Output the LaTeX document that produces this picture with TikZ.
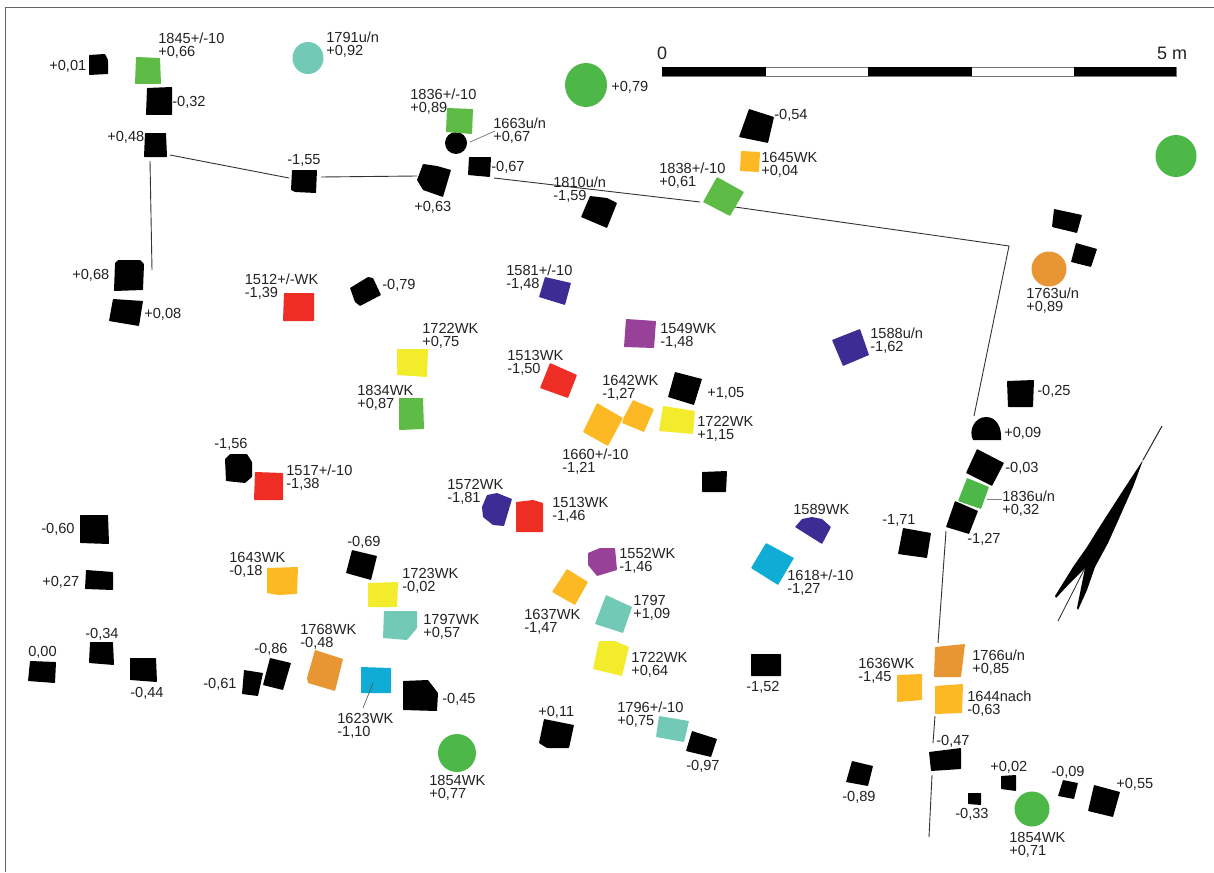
\documentclass[tikz,border=0pt]{standalone}
\usepackage{fontspec}
\setmainfont{Liberation Sans}
\definecolor{txt}{HTML}{222222}
\definecolor{sqgreen}{HTML}{5DBB46}
\definecolor{cgreen}{HTML}{4DB848}
\definecolor{teal2}{HTML}{72C9B5}
\definecolor{red2}{HTML}{EE2E24}
\definecolor{yel2}{HTML}{F3EC2C}
\definecolor{indigo2}{HTML}{3D2C93}
\definecolor{magenta2}{HTML}{974199}
\definecolor{amber2}{HTML}{FDB924}
\definecolor{dkorange}{HTML}{E89534}
\definecolor{sky2}{HTML}{0FACD5}
\newcounter{labn}
\tikzset{
  lab/.style={anchor=north west,inner sep=0pt,outer sep=0pt,align=left,text=txt,font=\fontsize{14.6}{12.6}\selectfont},
  bigsc/.style={anchor=north west,inner sep=0pt,outer sep=0pt,text=txt,font=\fontsize{18}{20}\selectfont},
  wall/.style={draw=black!80,line width=0.9pt},
  lead/.style={draw=black!50,line width=0.8pt},
  frameline/.style={draw=black!60,line width=1pt},
  pit/.style={fill=black,rounded corners=0.6pt},
  sq/.style={fill=#1,rounded corners=0.6pt},
}
\newcommand{\lbl}[4]{\stepcounter{labn}\node[lab] (L\thelabn) at (#1-0.7,#2) {\rule{0pt}{10.4pt}#3\\#4};}
\newcommand{\lbs}[3]{\stepcounter{labn}\node[lab] (L\thelabn) at (#1-0.7,#2) {\rule{0pt}{10.4pt}#3};}
\begin{document}
\begin{tikzpicture}[x=1pt,y=-1pt]
\useasboundingbox (0,0) rectangle (1214,872);
\fill[white] (0,0) rectangle (1214,872);
\draw[frameline] (5.7,872) -- (5.7,7.5) -- (1214,7.5);
% walls
\draw[wall] (170,155) -- (289,178);
\draw[wall] (321,177) -- (417,176);
\draw[wall] (150,161) -- (152,270);
\draw[wall] (494,178) -- (700,202);
\draw[wall] (735,207) -- (1009,246) -- (974,416);
\draw[wall] (946,531) -- (938,643);
\draw[wall] (935,716) -- (933,743);
\draw[wall] (932,775) -- (929,837);
\draw[lead] (470,142) -- (495,131);
\draw[lead] (987,499) -- (1002,499);
% scale bar
\draw[draw=black!55,line width=0.8pt,fill=white] (662,67) rectangle (1176,76);
\fill[black] (662,67) rectangle (766,76);
\fill[black] (868,67) rectangle (972,76);
\fill[black] (1074,67) rectangle (1176,76);
% circles
\fill[teal2] (308,58) ellipse [x radius=15.5,y radius=16];
\fill[cgreen] (586,85) ellipse [x radius=21,y radius=22];
\fill[cgreen] (1176,156) ellipse [x radius=20.5,y radius=21];
\fill[dkorange] (1049,269) circle [radius=17.5];
\fill[cgreen] (457,753) circle [radius=19];
\fill[cgreen] (1032,809) circle [radius=17.5];
\fill[black] (456,143) circle [radius=11];
% black pits
\fill[pit] (89,55) -- (105,54) -- (108,60) -- (108,74) -- (89,75) -- cycle;
\fill[pit] (147,88) -- (172,87) -- (172,115) -- (146,115) -- cycle;
\fill[pit] (145,133) -- (166,133) -- (167,157) -- (144,157) -- cycle;
\fill[pit] (292,170) -- (317,170) -- (316,193) -- (295,192) -- (291,190) -- cycle;
\fill[pit] (115,263) -- (118,260) -- (140,260) -- (144,264) -- (143,290) -- (114,291) -- cycle;
\fill[pit] (113,299) -- (143,301) -- (139,326) -- (109,321) -- cycle;
\fill[pit] (350,288) -- (368,277) -- (373,278) -- (381,295) -- (360,306) -- (355,302) -- cycle;
\fill[pit] (469,157) -- (491,157) -- (490,177) -- (468,175) -- cycle;
\fill[pit] (423,164) -- (437,166) -- (451,170) -- (443,197) -- (423,190) -- (417,180) -- cycle;
\fill[pit] (590,196) -- (607,198) -- (617,203) -- (607,228) -- (581,217) -- cycle;
\fill[pit] (749,109) -- (774,117) -- (768,143) -- (739,137) -- cycle;
\fill[pit] (1054,209) -- (1082,215) -- (1077,233) -- (1052,227) -- cycle;
\fill[pit] (1076,243) -- (1097,249) -- (1091,267) -- (1071,262) -- cycle;
\fill[pit] (225,459) -- (230,454) -- (247,454) -- (252,462) -- (252,477) -- (245,483) -- (226,481) -- cycle;
\fill[pit] (675,372) -- (702,379) -- (694,405) -- (668,397) -- cycle;
\fill[pit] (702,472) -- (727,471) -- (726,492) -- (702,492) -- cycle;
\fill[pit] (1007,381) -- (1034,380) -- (1033,407) -- (1008,407) -- cycle;
\fill[black] (973,440) .. controls (968,430) and (975,417) .. (986,417) .. controls (997,417) and (1002,428) .. (1001,440) -- cycle;
\fill[pit] (977,449) -- (1004,463) -- (992,486) -- (966,473) -- cycle;
\fill[pit] (955,501) -- (978,511) -- (969,534) -- (946,527) -- cycle;
\fill[pit] (903,528) -- (931,533) -- (927,558) -- (898,554) -- cycle;
\fill[pit] (80,515) -- (108,515) -- (109,544) -- (80,543) -- cycle;
\fill[pit] (86,570) -- (113,572) -- (113,590) -- (85,589) -- cycle;
\fill[pit] (90,642) -- (113,642) -- (114,665) -- (89,663) -- cycle;
\fill[pit] (30,661) -- (56,662) -- (55,683) -- (28,681) -- cycle;
\fill[pit] (130,658) -- (156,658) -- (157,682) -- (130,680) -- cycle;
\fill[pit] (352,550) -- (377,556) -- (371,580) -- (346,573) -- cycle;
\fill[pit] (270,658) -- (291,663) -- (283,690) -- (263,685) -- cycle;
\fill[pit] (244,670) -- (263,673) -- (258,696) -- (242,694) -- cycle;
\fill[pit] (403,681) -- (428,680) -- (438,693) -- (437,711) -- (403,710) -- cycle;
\fill[pit] (751,654) -- (781,654) -- (781,676) -- (751,676) -- cycle;
\fill[pit] (544,719) -- (574,725) -- (569,748) -- (547,748) -- (539,743) -- cycle;
\fill[pit] (692,731) -- (717,739) -- (711,757) -- (686,751) -- cycle;
\fill[pit] (852,761) -- (873,766) -- (868,786) -- (846,782) -- cycle;
\fill[pit] (929,752) -- (961,748) -- (961,769) -- (931,771) -- cycle;
\fill[pit] (1001,776) -- (1016,775) -- (1016,791) -- (1001,789) -- cycle;
\fill[pit] (968,793) -- (981,793) -- (981,805) -- (968,804) -- cycle;
\fill[pit] (1063,780) -- (1078,783) -- (1074,799) -- (1058,796) -- cycle;
\fill[pit] (1094,785) -- (1120,792) -- (1113,817) -- (1088,811) -- cycle;
% coloured pits
\fill[sq=sqgreen] (136,57) -- (160,58) -- (161,84) -- (135,84) -- cycle;
\fill[sq=sqgreen] (447,108) -- (473,109) -- (472,134) -- (446,132) -- cycle;
\fill[sq=sqgreen] (717,177) -- (744,192) -- (730,216) -- (703,202) -- cycle;
\fill[sq=sqgreen] (399,398) -- (423,398) -- (424,429) -- (399,430) -- cycle;
\fill[sq=cgreen] (967,478) -- (989,487) -- (981,509) -- (958,501) -- cycle;
\fill[sq=amber2] (741,151) -- (760,152) -- (759,172) -- (740,171) -- cycle;
\fill[sq=amber2] (597,403) -- (623,418) -- (608,446) -- (583,432) -- cycle;
\fill[sq=amber2] (633,400) -- (654,409) -- (644,432) -- (622,423) -- (624,417) -- cycle;
\fill[sq=amber2] (267,568) -- (298,567) -- (297,594) -- (278,595) -- (267,593) -- cycle;
\fill[sq=amber2] (567,569) -- (588,582) -- (575,605) -- (552,592) -- cycle;
\fill[sq=amber2] (897,675) -- (922,674) -- (922,700) -- (897,702) -- cycle;
\fill[sq=amber2] (935,686) -- (963,684) -- (962,713) -- (935,714) -- cycle;
\fill[sq=dkorange] (315,650) -- (343,659) -- (335,691) -- (308,683) -- (307,678) -- cycle;
\fill[sq=dkorange] (935,647) -- (965,644) -- (961,677) -- (934,677) -- cycle;
\fill[sq=red2] (284,293) -- (314,293) -- (314,321) -- (283,321) -- cycle;
\fill[sq=red2] (550,363) -- (577,375) -- (568,398) -- (540,388) -- cycle;
\fill[sq=red2] (255,472) -- (283,473) -- (283,500) -- (254,500) -- cycle;
\fill[sq=red2] (516,502) -- (533,500) -- (543,503) -- (543,532) -- (516,532) -- cycle;
\fill[sq=yel2] (397,349) -- (428,349) -- (427,377) -- (397,375) -- cycle;
\fill[sq=yel2] (663,406) -- (695,411) -- (693,434) -- (659,431) -- cycle;
\fill[sq=yel2] (368,583) -- (398,582) -- (397,607) -- (368,607) -- cycle;
\fill[sq=yel2] (599,641) -- (615,641) -- (629,647) -- (622,676) -- (593,669) -- cycle;
\fill[sq=indigo2] (545,277) -- (571,283) -- (565,305) -- (539,297) -- cycle;
\fill[sq=indigo2] (860,329) -- (869,355) -- (843,366) -- (832,340) -- cycle;
\fill[sq=indigo2] (487,495) -- (497,493) -- (512,499) -- (504,526) -- (493,525) -- (483,517) -- (482,507) -- cycle;
\fill[sq=indigo2] (795,527) -- (802,519) -- (812,517) -- (822,519) -- (831,527) -- (822,544) -- cycle;
\fill[sq=magenta2] (626,319) -- (656,321) -- (654,348) -- (624,347) -- cycle;
\fill[sq=magenta2] (588,553) -- (600,548) -- (615,548) -- (617,570) -- (597,576) -- (588,565) -- cycle;
\fill[sq=sky2] (766,543) -- (794,558) -- (778,585) -- (751,568) -- cycle;
\fill[sq=sky2] (361,667) -- (391,668) -- (391,693) -- (361,693) -- cycle;
\fill[sq=teal2] (384,611) -- (417,611) -- (417,628) -- (407,640) -- (383,638) -- cycle;
\fill[sq=teal2] (606,595) -- (632,607) -- (623,633) -- (595,624) -- cycle;
\fill[sq=teal2] (659,716) -- (689,721) -- (684,742) -- (656,737) -- cycle;
\draw[draw=black!70,line width=0.6pt] (373,683) -- (363,708);
% north arrow
\fill[black] (1143,460) -- (1133,487) -- (1117,523) -- (1108,543) -- (1095,567) -- (1087,590) -- (1078,610) -- (1077,608) -- (1082,583) -- (1085,568) -- (1070,583) -- (1056,598) -- (1055,596) -- (1073,567) -- (1087,547) -- (1102,523) -- (1122,492) -- cycle;
\draw[draw=black!85,line width=0.8pt] (1085,568) -- (1058,621);
\draw[draw=black!85,line width=1pt] (1162,426) -- (1143,460);
% labels
\lbl{159}{33}{1845+/-10}{+0,66}
\lbl{327}{32}{1791u/n}{+0,92}
\lbs{50}{60}{+0,01}
\lbs{173}{96}{-0,32}
\lbs{108}{131}{+0,48}
\lbs{288}{154}{-1,55}
\lbs{73}{269}{+0,68}
\lbs{145}{308}{+0,08}
\lbl{245.5}{274}{1512+/-WK}{-1,39}
\lbs{383}{279}{-0,79}
\lbl{411}{89}{1836+/-10}{+0,89}
\lbl{494}{118}{1663u/n}{+0,67}
\lbs{492}{161}{-0,67}
\lbs{415}{201}{+0,63}
\lbl{554}{177}{1810u/n}{-1,59}
\lbs{612}{81}{+0,79}
\lbl{660}{163}{1838+/-10}{+0,61}
\lbl{762}{152}{1645WK}{+0,04}
\lbs{775}{109}{-0,54}
\stepcounter{labn}\node[bigsc] (L\thelabn) at (657,47) {\rule{0pt}{13pt}0};
\stepcounter{labn}\node[bigsc] (L\thelabn) at (1157,47) {\rule{0pt}{13pt}5 m};
\lbl{507}{265}{1581+/-10}{-1,48}
\lbl{423}{323}{1722WK}{+0,75}
\lbl{508}{350}{1513WK}{-1,50}
\lbl{358}{385}{1834WK}{+0,87}
\lbs{215}{438}{-1,56}
\lbl{287}{465}{1517+/-10}{-1,38}
\lbl{448}{479}{1572WK}{-1,81}
\lbl{553}{497}{1513WK}{-1,46}
\lbs{348}{536}{-0,69}
\lbl{661}{323}{1549WK}{-1,48}
\lbl{603}{375}{1642WK}{-1,27}
\lbs{708}{387}{+1,05}
\lbl{698}{416}{1722WK}{+1,15}
\lbl{563}{449}{1660+/-10}{-1,21}
\lbs{794}{504}{1589WK}
\lbl{620}{548}{1552WK}{-1,46}
\lbl{788}{570}{1618+/-10}{-1,27}
\lbl{871}{328}{1588u/n}{-1,62}
\lbs{1038}{385}{-0,25}
\lbs{1005}{427}{+0,09}
\lbs{1006}{462}{-0,03}
\lbl{1003}{491}{1836u/n}{+0,32}
\lbs{968}{533}{-1,27}
\lbs{883}{514}{-1,71}
\lbl{1027}{288}{1763u/n}{+0,89}
\lbs{42}{523}{-0,60}
\lbs{43}{576}{+0,27}
\lbs{86}{628}{-0,34}
\lbs{29}{646}{0,00}
\lbs{131}{687}{-0,44}
\lbl{230}{552}{1643WK}{-0,18}
\lbl{403}{568}{1723WK}{-0,02}
\lbl{424}{614}{1797WK}{+0,57}
\lbl{301}{624}{1768WK}{-0,48}
\lbs{255}{643}{-0,86}
\lbs{204}{678}{-0,61}
\lbs{443}{693}{-0,45}
\lbl{338}{713}{1623WK}{-1,10}
\lbl{430}{775}{1854WK}{+0,77}
\lbl{525}{609}{1637WK}{-1,47}
\lbl{634}{595}{1797}{+1,09}
\lbl{632}{652}{1722WK}{+0,64}
\lbs{747}{681}{-1,52}
\lbs{539}{706}{+0,11}
\lbl{618}{702}{1796+/-10}{+0,75}
\lbs{687}{760}{-0,97}
\lbs{843}{791}{-0,89}
\lbl{859}{658}{1636WK}{-1,45}
\lbl{973}{650}{1766u/n}{+0,85}
\lbl{968}{691}{1644nach}{-0,63}
\lbs{937}{735}{-0,47}
\lbs{991}{761}{+0,02}
\lbs{1052}{766}{-0,09}
\lbs{1117}{778}{+0,55}
\lbs{956}{808}{-0,33}
\lbl{1010}{832}{1854WK}{+0,71}
\end{tikzpicture}
\end{document}
